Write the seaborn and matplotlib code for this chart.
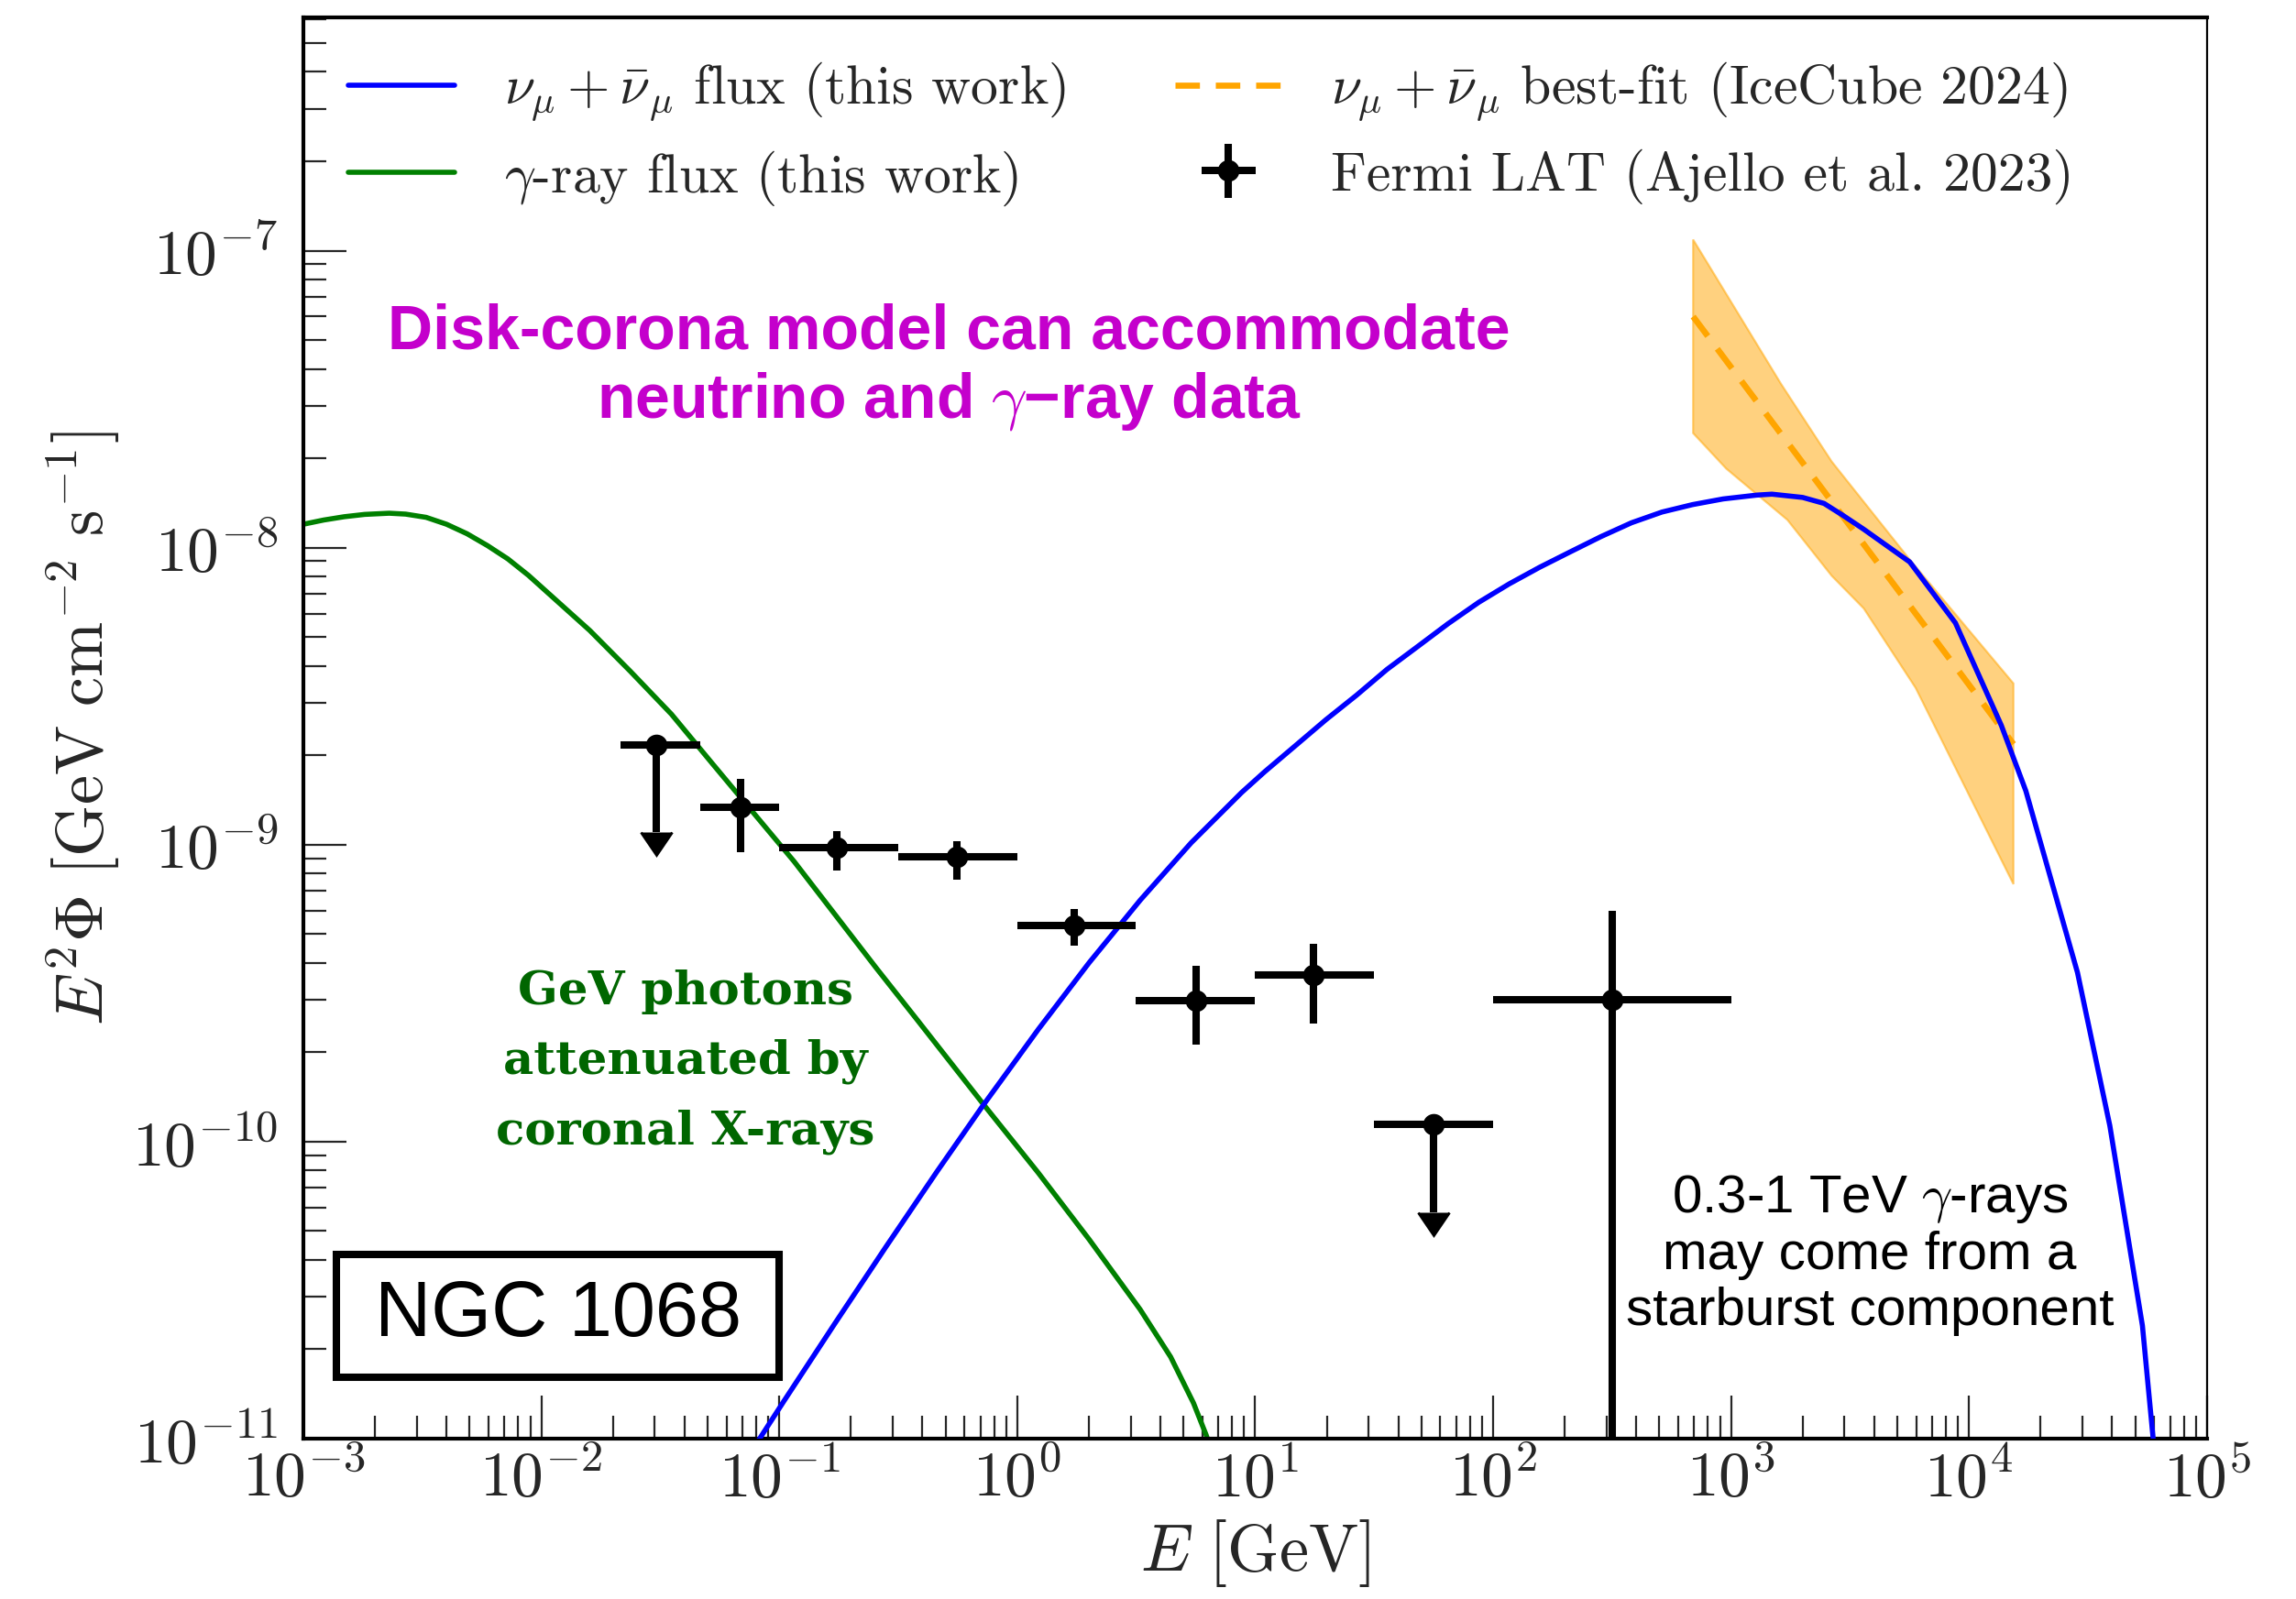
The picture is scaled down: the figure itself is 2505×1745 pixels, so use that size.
import numpy as np
import matplotlib
matplotlib.use("Agg")
import matplotlib.pyplot as plt
import matplotlib.ticker as mticker
from matplotlib.patches import Rectangle
import seaborn as sns

# gamma-ray flux (this work)
gamma_E = [1.0e-3, 1.219e-3, 1.486e-3, 1.811e-3, 2.296e-3, 2.692e-3, 3.281e-3, 3.999e-3,
           4.875e-3, 5.943e-3, 7.244e-3, 8.831e-3, 1.076e-2, 1.60e-2,
           2.371e-2, 3.524e-2, 5.236e-2, 7.78e-2, 0.1156, 0.1718, 0.2553, 0.3802,
           0.7145, 1.227, 2.009, 3.289, 4.416, 5.508, 6.223, 6.761]
gamma_flux = [1.199e-8, 1.239e-8, 1.271e-8, 1.294e-8, 1.306e-8, 1.297e-8, 1.265e-8, 1.199e-8,
              1.114e-8, 1.016e-8, 9.16e-9, 8.07e-9, 7.00e-9, 5.26e-9,
              3.83e-9, 2.75e-9, 1.875e-9, 1.282e-9, 8.77e-10, 5.81e-10, 3.85e-10, 2.57e-10,
              1.349e-10, 7.85e-11, 4.68e-11, 2.72e-11, 1.884e-11, 1.318e-11, 1.03e-11, 8.51e-12]

# nu_mu + anti nu_mu flux (this work)
nu_E = [0.0794, 0.105, 0.1718, 0.2805, 0.4592, 0.7145, 1.227, 2.009, 3.289, 5.383, 8.79,
        10.99, 14.76, 19.86, 26.67, 35.81, 48.19, 64.71, 87.10, 116.9, 157.0, 211.3,
        283.8, 381.9, 512.9, 688.7, 926.8, 1282, 1486, 2000, 2460, 2938, 3614, 5636,
        8770, 13680, 17340, 24660, 28580, 39080, 53580, 59430, 61660]
nu_flux = [9.5e-12, 1.343e-11, 2.449e-11, 4.416e-11, 7.907e-11, 1.315e-10, 2.388e-10,
           4.009e-10, 6.501e-10, 1.014e-9, 1.50e-9, 1.762e-9, 2.153e-9, 2.636e-9, 3.184e-9,
           3.89e-9, 4.645e-9, 5.546e-9, 6.546e-9, 7.551e-9, 8.59e-9, 9.683e-9, 1.089e-8,
           1.213e-8, 1.318e-8, 1.396e-8, 1.459e-8, 1.503e-8, 1.514e-8, 1.476e-8, 1.409e-8,
           1.288e-8, 1.153e-8, 8.95e-9, 5.58e-9, 2.52e-9, 1.517e-9, 5.62e-10, 3.71e-10,
           1.132e-10, 2.40e-11, 1.0e-11, 6.3e-12]

# IceCube 2024 best fit and its band
ic_E = [693, 15380]
ic_flux = [6.0e-8, 2.18e-9]
ic_up_E = [693, 1626, 2649, 5636, 15380]
ic_up_flux = [1.09e-7, 3.55e-8, 1.95e-8, 9.12e-9, 3.49e-9]
ic_lo_E = [693, 955, 1726, 2649, 3614, 5970, 15380]
ic_lo_flux = [2.43e-8, 1.845e-8, 1.24e-8, 8.04e-9, 6.24e-9, 3.37e-9, 7.36e-10]

# Fermi LAT (Ajello et al. 2023), detections
fermi_E = [0.0687, 0.174, 0.556, 1.73, 5.63, 17.6, 318]
fermi_Elo = [0.0464, 0.1, 0.316, 1.0, 3.16, 10.0, 100]
fermi_Ehi = [0.1, 0.316, 1.0, 3.16, 10.0, 31.6, 1000]
fermi_flux = [1.34e-9, 9.75e-10, 9.08e-10, 5.33e-10, 2.99e-10, 3.65e-10, 3.0e-10]
fermi_flux_lo = [9.4e-10, 8.17e-10, 7.6e-10, 4.57e-10, 2.12e-10, 2.50e-10, 1e-13]
fermi_flux_hi = [1.66e-9, 1.11e-9, 1.03e-9, 6.08e-10, 3.92e-10, 4.64e-10, 5.98e-10]
# upper limits
ul_E = [0.0304, 56.2]
ul_Elo = [0.0215, 31.6]
ul_Ehi = [0.0464, 100]
ul_flux = [2.16e-9, 1.14e-10]
ul_base = [1.1e-9, 5.8e-11]

sns.set_theme(style="ticks")
plt.rcParams.update({
    "font.family": "serif",
    "font.serif": ["cmr10"],
    "mathtext.fontset": "cm",
    "axes.formatter.use_mathtext": True,
    "axes.unicode_minus": False,
})

fig = plt.figure(figsize=(12.525, 8.725), dpi=200)
ax = fig.add_axes([0.1321, 0.1003, 0.8291, 0.8888])

ax.fill(ic_up_E + ic_lo_E[::-1], ic_up_flux + ic_lo_flux[::-1],
        facecolor="orange", alpha=0.5, edgecolor="orange", linewidth=0.8, zorder=1)
sns.lineplot(x=ic_E, y=ic_flux, ax=ax, color="orange", linewidth=2.4,
             label=r"$\nu_\mu+\bar{\nu}_\mu$ best-fit (IceCube 2024)", legend=False, zorder=3)
ic_line = ax.lines[-1]
ic_line.set_dashes([4, 2.6])

sns.lineplot(x=gamma_E, y=gamma_flux, ax=ax, color="green", linewidth=2.0,
             label=r"$\gamma$-ray flux (this work)", legend=False, zorder=2)
g_line = ax.lines[-1]
sns.lineplot(x=nu_E, y=nu_flux, ax=ax, color="blue", linewidth=2.0,
             label=r"$\nu_\mu+\bar{\nu}_\mu$ flux (this work)", legend=False, zorder=4)
nu_line = ax.lines[-1]

E = np.array(fermi_E)
F = np.array(fermi_flux)
fermi = ax.errorbar(E, F,
                    xerr=[E - np.array(fermi_Elo), np.array(fermi_Ehi) - E],
                    yerr=[F - np.array(fermi_flux_lo), np.array(fermi_flux_hi) - F],
                    fmt="o", color="black", markersize=7.5, elinewidth=2.9, capsize=0,
                    label="Fermi LAT (Ajello et al. 2023)", zorder=5)
Eu = np.array(ul_E)
Fu = np.array(ul_flux)
ul = ax.errorbar(Eu, Fu,
                 xerr=[Eu - np.array(ul_Elo), np.array(ul_Ehi) - Eu],
                 yerr=Fu - np.array(ul_base), uplims=True,
                 fmt="o", color="black", markersize=7.5, elinewidth=2.9, capsize=0, zorder=5)
for cl in ul[1]:
    cl.set_markersize(12)

ax.set_xscale("log")
ax.set_yscale("log")
ax.set_xlim(1e-3, 1e5)
ax.set_ylim(1e-11, 6.1e-7)

for axis in (ax.xaxis, ax.yaxis):
    axis.set_major_locator(mticker.LogLocator(base=10, numticks=20))
    axis.set_minor_locator(mticker.LogLocator(base=10, subs=np.arange(2, 10), numticks=200))
    axis.set_minor_formatter(mticker.NullFormatter())
ax.tick_params(which="major", direction="in", length=17, width=0.8, labelsize=25,
               top=False, right=False)
ax.tick_params(which="minor", direction="in", length=9, width=0.8, top=False, right=False)
ax.tick_params(axis="x", which="major", pad=4)
ax.tick_params(axis="y", which="major", pad=10)
for s in ("left", "bottom", "top"):
    ax.spines[s].set_linewidth(1.5)
ax.spines["right"].set_linewidth(0.8)
for s in ax.spines.values():
    s.set_color("black")

ax.set_xlabel(r"$E\ [\mathrm{GeV}]$", fontsize=26, labelpad=3)
ax.set_ylabel(r"$E^2\Phi\ [\mathrm{GeV\ cm^{-2}\ s^{-1}}]$", fontsize=26, labelpad=4)

ax.legend([nu_line, g_line, ic_line, fermi],
          [nu_line.get_label(), g_line.get_label(), ic_line.get_label(), fermi.get_label()],
          ncol=2, frameon=False, fontsize=21.5, loc="upper left",
          bbox_to_anchor=(0.012, 0.985), borderaxespad=0,
          handlelength=1.95, handletextpad=0.9, columnspacing=2.0, labelspacing=0.45)

ax.text(0.339, 0.7536, "Disk-corona model can accommodate\nneutrino and $\\gamma$\u2212ray data",
        transform=ax.transAxes, ha="center", va="center", fontsize=24.5,
        fontweight="bold", family="Liberation Sans", color="#C400CC", linespacing=1.2)
ax.text(0.2008, 0.2650, "GeV photons\nattenuated by\ncoronal X-rays",
        transform=ax.transAxes, ha="center", va="center", fontsize=18.5,
        fontweight="bold", family="DejaVu Serif", color="#006600", linespacing=1.72)
ax.add_patch(Rectangle((0.0175, 0.043), 0.2323, 0.0865, transform=ax.transAxes,
                       facecolor="white", edgecolor="black", linewidth=2.9, zorder=6))
ax.text(0.1337, 0.0863, "NGC 1068", transform=ax.transAxes, ha="center", va="center",
        fontsize=30.5, family="Liberation Sans", color="black", zorder=7)
ax.text(0.8228, 0.1296, "0.3-1 TeV $\\gamma$-rays\nmay come from a\nstarburst component",
        transform=ax.transAxes, ha="center", va="center", fontsize=21,
        family="Liberation Sans", color="black", linespacing=1.15, zorder=6)

fig.savefig("out.png", dpi=200, facecolor="white")
